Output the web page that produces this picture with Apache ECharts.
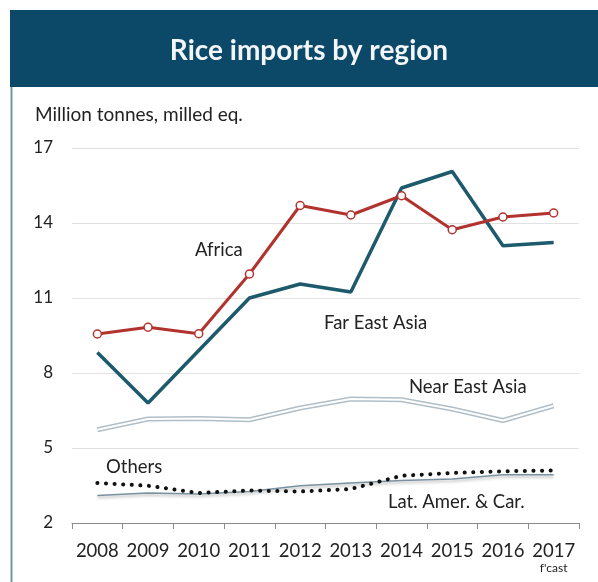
<!DOCTYPE html>
<html>
<head>
<meta charset="utf-8">
<script src="https://cdn.jsdelivr.net/npm/echarts@6/dist/echarts.min.js"></script>
<style>
  html, body { margin: 0; padding: 0; background: #fff; }
  #chart { width: 598px; height: 582px; }
</style>
</head>
<body>
<div id="chart"></div>
<script>
// Rice imports by region, million tonnes (milled equivalent)
const years = ['2008', '2009', '2010', '2011', '2012', '2013', '2014', '2015', '2016', '2017'];
const yTicks = [2, 5, 8, 11, 14, 17];

const africa      = [9.56, 9.83, 9.57, 11.96, 14.7, 14.32, 15.09, 13.73, 14.24, 14.4];
const farEastAsia = [8.82, 6.8, 8.9, 11.0, 11.56, 11.24, 15.4, 16.06, 13.09, 13.22];
const nearEastAsia = [5.73, 6.16, 6.18, 6.13, 6.6, 6.96, 6.93, 6.56, 6.1, 6.69];
const others      = [3.6, 3.49, 3.2, 3.3, 3.26, 3.36, 3.89, 4.0, 4.07, 4.1];
const latAmerCar  = [3.1, 3.2, 3.16, 3.26, 3.49, 3.6, 3.7, 3.76, 3.93, 3.93];

const FONT = 'Lato, "Open Sans", sans-serif';
const chart = echarts.init(document.getElementById('chart'), null, { renderer: 'canvas' });

// Inline series name placed beside its line (x = left edge, y = vertical centre)
function seriesLabel(text, x, y) {
  return {
    type: 'text', x: x, y: y, z: 10,
    style: { text: text, font: '18.5px ' + FONT, fill: '#222', verticalAlign: 'middle' }
  };
}

chart.setOption({
  animation: false,
  backgroundColor: '#fff',
  grid: { left: 72, right: 19, top: 148, bottom: 59, containLabel: false },
  xAxis: {
    type: 'category',
    data: years,
    boundaryGap: true,
    axisLine: { lineStyle: { color: '#8a8a8a', width: 1.2 } },
    axisTick: { show: true, length: 6, lineStyle: { color: '#8a8a8a' } },
    axisLabel: {
      interval: 0,
      color: '#222', fontFamily: FONT, fontSize: 18.5, lineHeight: 20, margin: 18,
      formatter: v => v === '2017' ? '{y|' + v + '}\n{f|f\'cast}' : v,
      rich: {
        y: { fontSize: 18.5, fontFamily: FONT, color: '#222', lineHeight: 20, align: 'center' },
        f: { fontSize: 12, fontFamily: FONT, color: '#222', lineHeight: 14, align: 'center' }
      }
    },
    splitLine: { show: false }
  },
  yAxis: {
    type: 'value',
    min: yTicks[0], max: yTicks[yTicks.length - 1], interval: 3,
    axisLine: { show: false },
    axisTick: { show: false },
    axisLabel: { color: '#222', fontFamily: FONT, fontSize: 17, margin: 19 },
    splitLine: { lineStyle: { color: '#e2e2e2', width: 1 } }
  },
  series: [
    {
      name: 'Near East Asia outline', type: 'line', data: nearEastAsia,
      symbol: 'none', z: 2,
      lineStyle: { color: '#b0bec8', width: 5 }
    },
    {
      name: 'Near East Asia', type: 'line', data: nearEastAsia,
      symbol: 'none', z: 3,
      lineStyle: { color: '#ffffff', width: 2.2 }
    },
    {
      name: 'Lat. Amer. & Car.', type: 'line', data: latAmerCar,
      symbol: 'none', z: 3,
      lineStyle: { color: '#7892a2', width: 1.7, shadowColor: 'rgba(0,0,0,0.3)', shadowBlur: 3, shadowOffsetY: 2 }
    },
    {
      name: 'Others', type: 'line', data: others,
      symbol: 'none', z: 4,
      lineStyle: { color: '#111', width: 4, type: [0.1, 8.5], cap: 'round' }
    },
    {
      name: 'Far East Asia', type: 'line', data: farEastAsia,
      symbol: 'none', z: 5,
      lineStyle: { color: '#1c5a6c', width: 3.5 }
    },
    {
      name: 'Africa', type: 'line', data: africa,
      symbol: 'circle', symbolSize: 8, z: 6,
      itemStyle: { color: '#fff', borderColor: '#b2322e', borderWidth: 1.5 },
      lineStyle: { color: '#b2322e', width: 3 }
    }
  ],
  graphic: [
    {
      type: 'rect', left: 10, top: 10, z: 0,
      shape: { width: 588, height: 77 },
      style: { fill: '#0c4867' }
    },
    {
      type: 'line', z: 0,
      shape: { x1: 11.5, y1: 87, x2: 11.5, y2: 582 },
      style: { stroke: '#6f97aa', lineWidth: 2 }
    },
    {
      type: 'text', x: 309, y: 51, z: 10,
      style: { text: 'Rice imports by region', font: 'bold 28px ' + FONT, fill: '#f2f6f8', align: 'center', verticalAlign: 'middle' }
    },
    {
      type: 'text', x: 35, y: 115, z: 10,
      style: { text: 'Million tonnes, milled eq.', font: '19px ' + FONT, fill: '#222', verticalAlign: 'middle' }
    },
    seriesLabel('Africa', 195, 250),
    seriesLabel('Far East Asia', 324, 323),
    seriesLabel('Near East Asia', 409, 387),
    seriesLabel('Others', 106, 467),
    seriesLabel('Lat. Amer. & Car.', 388, 502)
  ]
});
</script>
</body>
</html>
